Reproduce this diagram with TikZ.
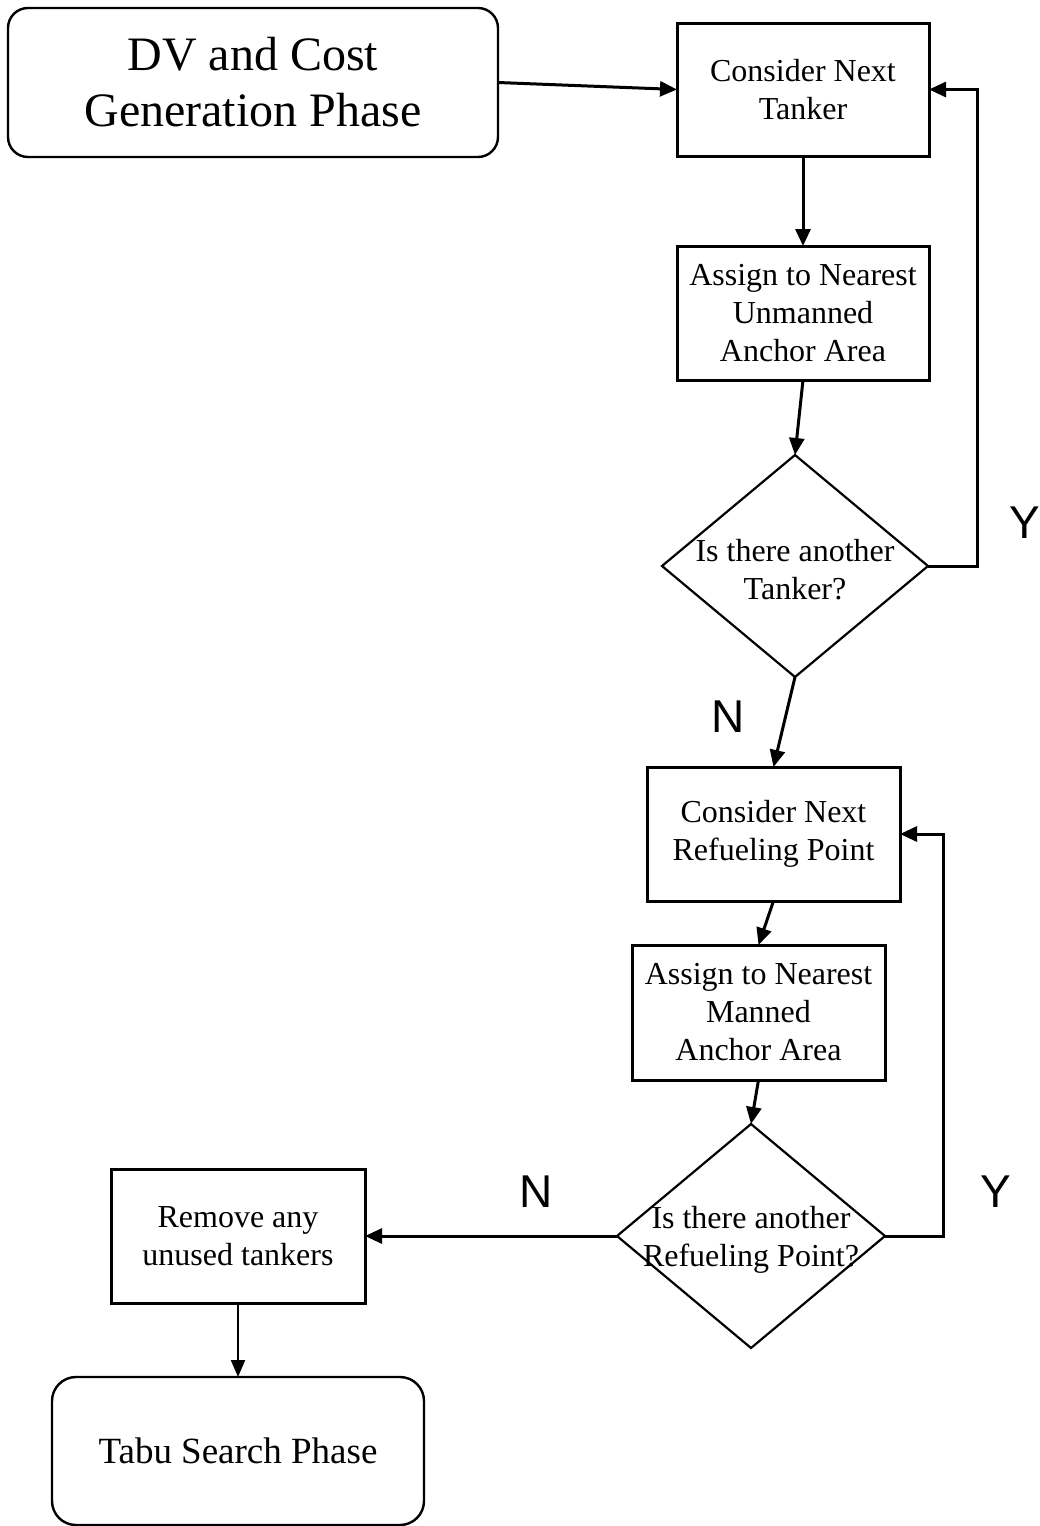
\documentclass[tikz,border=0pt]{standalone}
\usepackage{fontspec}
\setmainfont{Liberation Serif}
\newfontfamily\labelfont{Liberation Sans}
\usetikzlibrary{arrows.meta,shapes.geometric}

\begin{document}
\begin{tikzpicture}[x=1pt,y=-1pt,
  every node/.style={inner sep=0pt, outer sep=0pt},
  procbox/.style={draw, line width=3pt, rectangle, align=center,
    font=\fontsize{32}{38}\selectfont},
  phasebox/.style={draw, line width=2.4pt, rectangle, align=center},
  decision/.style={draw, line width=2.2pt, diamond},
  dtext/.style={align=center, font=\fontsize{32}{38}\selectfont},
  yn/.style={font=\labelfont\fontsize{46}{46}\selectfont},
  arr/.style={line width=3pt, -{Triangle[length=17pt,width=15pt]}},
  thinarr/.style={line width=2.2pt, -{Triangle[length=17pt,width=14pt]}}
]
\useasboundingbox (0,0) rectangle (1040,1526);

% phases
\node[phasebox, rounded corners=20pt, minimum width=490pt, minimum height=149pt,
  font=\fontsize{48}{56}\selectfont] (dv) at (253,82.5) {DV and Cost\\Generation Phase};
\node[phasebox, rounded corners=24pt, minimum width=372pt, minimum height=148pt,
  font=\fontsize{37}{44}\selectfont] (tabu) at (238,1451) {Tabu Search Phase};

% tanker loop
\node[procbox, minimum width=252pt, minimum height=133pt] (nexttanker) at (803,89.5) {Consider Next\\Tanker};
\node[procbox, minimum width=252pt, minimum height=134pt] (unmanned) at (803,313) {Assign to Nearest\\Unmanned\\Anchor Area};
\node[decision, minimum width=266pt, minimum height=222pt] (q1) at (795,566) {};
\node[dtext] (q1txt) at (795,570) {Is there another\\Tanker?};

% refueling point loop
\node[procbox, minimum width=253pt, minimum height=134pt] (nextpoint) at (773.5,834) {Consider Next\\Refueling Point};
\node[procbox, minimum width=253pt, minimum height=135pt] (manned) at (758.5,1012.5) {Assign to Nearest\\Manned\\Anchor Area};
\node[decision, minimum width=268pt, minimum height=224pt] (q2) at (751,1236) {};
\node[dtext] (q2txt) at (751,1240) {Is there another\\Refueling Point?};

\node[procbox, minimum width=254pt, minimum height=134pt] (remove) at (238,1236) {Remove any\\unused tankers};

% answer labels
\node[yn] (y1) at (1025,523) {Y};
\node[yn] (n1) at (728,717) {N};
\node[yn] (n2) at (536,1192) {N};
\node[yn] (y2) at (996,1192) {Y};

% connectors
\draw[arr] (dv.east) -- (nexttanker.west);
\draw[arr] (nexttanker.south) -- (unmanned.north);
\draw[arr] (unmanned.south) -- (q1.north);
\draw[arr] (q1.east) -- ++(49,0) |- (nexttanker.east);
\draw[arr] (q1.south) -- (nextpoint.north);
\draw[arr] (nextpoint.south) -- (manned.north);
\draw[arr] (manned.south) -- (q2.north);
\draw[arr] (q2.east) -- ++(58,0) |- (nextpoint.east);
\draw[arr] (q2.west) -- (remove.east);
\draw[thinarr] (remove.south) -- (tabu.north);
\end{tikzpicture}
\end{document}
